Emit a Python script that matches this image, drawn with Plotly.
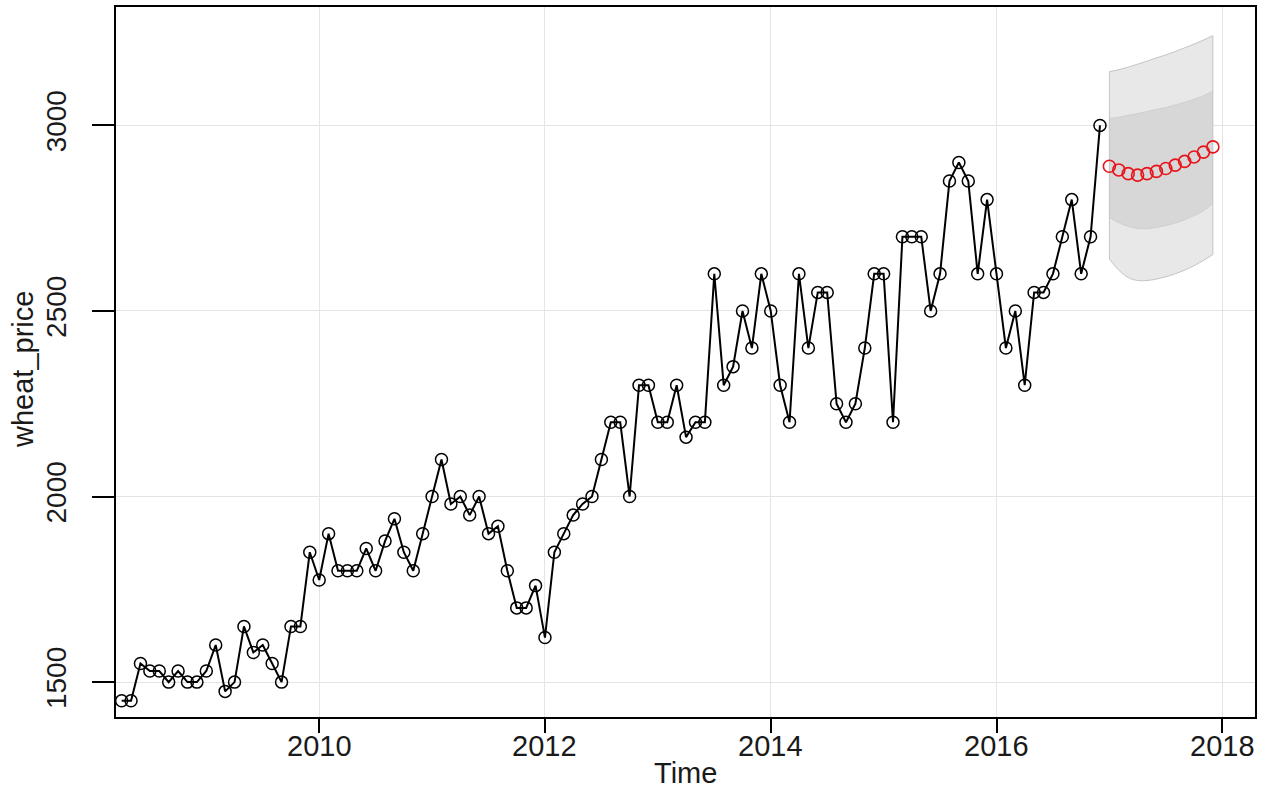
import numpy as np
import plotly.graph_objects as go

# Monthly wheat price, April 2008 - December 2016
start_year, start_month = 2008, 4
wheat_price = [
    1450, 1450, 1550, 1530, 1530, 1500, 1530, 1500, 1500,                    # 2008 (Apr-Dec)
    1530, 1600, 1475, 1500, 1650, 1580, 1600, 1550, 1500, 1650, 1650, 1850,  # 2009
    1775, 1900, 1800, 1800, 1800, 1860, 1800, 1880, 1940, 1850, 1800, 1900,  # 2010
    2000, 2100, 1980, 2000, 1950, 2000, 1900, 1920, 1800, 1700, 1700, 1760,  # 2011
    1620, 1850, 1900, 1950, 1980, 2000, 2100, 2200, 2200, 2000, 2300, 2300,  # 2012
    2200, 2200, 2300, 2160, 2200, 2200, 2600, 2300, 2350, 2500, 2400, 2600,  # 2013
    2500, 2300, 2200, 2600, 2400, 2550, 2550, 2250, 2200, 2250, 2400, 2600,  # 2014
    2600, 2200, 2700, 2700, 2700, 2500, 2600, 2850, 2900, 2850, 2600, 2800,  # 2015
    2600, 2400, 2500, 2300, 2550, 2550, 2600, 2700, 2800, 2600, 2700, 3000,  # 2016
]

# 12-month forecast for 2017 with 80% and 95% prediction intervals
fc_start_year, fc_start_month = 2017, 1
fc_mean = [2890, 2880, 2870, 2866, 2870, 2876, 2884, 2893, 2903, 2915, 2928, 2942]
fc_lo80 = [2752, 2738, 2728, 2722, 2722, 2725, 2730, 2737, 2746, 2757, 2770, 2790]
fc_hi80 = [3018, 3022, 3027, 3032, 3037, 3043, 3048, 3055, 3062, 3070, 3080, 3092]
fc_lo95 = [2640, 2610, 2590, 2582, 2582, 2586, 2592, 2600, 2610, 2622, 2636, 2652]
fc_hi95 = [3145, 3150, 3157, 3165, 3173, 3182, 3190, 3199, 3209, 3219, 3230, 3242]

x_ticks = [2010, 2012, 2014, 2016, 2018]
y_ticks = [1500, 2000, 2500, 3000]


def time_index(year, month, n):
    return year + (month - 1) / 12 + np.arange(n) / 12


t_obs = time_index(start_year, start_month, len(wheat_price))
t_fc = time_index(fc_start_year, fc_start_month, len(fc_mean))

FONT = "Liberation Sans, Arial, sans-serif"
TXT = "#1a1a1a"
band_edge = dict(color="#c4c4c4", width=1, shape="spline")

fig = go.Figure()

# 95% interval
fig.add_trace(go.Scatter(x=t_fc, y=fc_lo95, mode="lines", line=band_edge,
                         hoverinfo="skip", showlegend=False))
fig.add_trace(go.Scatter(x=t_fc, y=fc_hi95, mode="lines", line=band_edge,
                         fill="tonexty", fillcolor="#e8e8e8",
                         hoverinfo="skip", showlegend=False))
# 80% interval
fig.add_trace(go.Scatter(x=t_fc, y=fc_lo80, mode="lines",
                         line=dict(color="#cfcfcf", width=1, shape="spline"),
                         hoverinfo="skip", showlegend=False))
fig.add_trace(go.Scatter(x=t_fc, y=fc_hi80, mode="lines",
                         line=dict(color="#cfcfcf", width=1, shape="spline"),
                         fill="tonexty", fillcolor="#d7d7d7",
                         hoverinfo="skip", showlegend=False))
# vertical edges of the shaded region
for xe, lo, hi in [(t_fc[0], fc_lo95[0], fc_hi95[0]), (t_fc[-1], fc_lo95[-1], fc_hi95[-1])]:
    fig.add_trace(go.Scatter(x=[xe, xe], y=[lo, hi], mode="lines",
                             line=dict(color="#c4c4c4", width=1),
                             hoverinfo="skip", showlegend=False))

# observed series
fig.add_trace(go.Scatter(
    x=t_obs, y=wheat_price, mode="lines+markers",
    line=dict(color="black", width=2),
    marker=dict(symbol="circle-open", size=12, color="black", line=dict(width=1.5)),
    showlegend=False,
))

# point forecasts
fig.add_trace(go.Scatter(
    x=t_fc, y=fc_mean, mode="markers",
    marker=dict(symbol="circle-open", size=12, color="#e8141b", line=dict(width=1.6)),
    showlegend=False,
))

fig.update_layout(
    width=1274, height=792,
    margin=dict(l=116, r=19, t=5, b=75),
    paper_bgcolor="white", plot_bgcolor="white",
    font=dict(family=FONT, size=29, color=TXT),
    showlegend=False,
)
fig.update_xaxes(
    range=[2008.20, 2018.29], tickvals=x_ticks, showticklabels=False,
    showgrid=True, gridcolor="#e4e4e4", gridwidth=1, zeroline=False,
    showline=True, linecolor="black", linewidth=1.5, mirror=True,
    ticks="outside", ticklen=14, tickwidth=1.5, tickcolor="black",
)
fig.update_yaxes(
    range=[1406, 3319], tickvals=y_ticks, ticktext=[str(v) for v in y_ticks],
    showgrid=True, gridcolor="#e4e4e4", gridwidth=1, zeroline=False,
    showline=True, linecolor="black", linewidth=1.5, mirror=True,
    ticks="outside", ticklen=22, tickwidth=1.5, tickcolor="black",
    tickangle=-90, ticklabelstandoff=15,
    tickfont=dict(family=FONT, size=28, color=TXT),
)

# x tick labels placed just under the ticks
for v in x_ticks:
    fig.add_annotation(text=str(v), xref="x", yref="paper", x=v, y=0,
                       xanchor="center", yanchor="middle", yshift=-29, showarrow=False,
                       font=dict(family=FONT, size=29, color=TXT))

fig.add_annotation(text="Time", xref="paper", yref="paper", x=0.5, y=0,
                   xanchor="center", yanchor="middle", yshift=-56, showarrow=False,
                   font=dict(family=FONT, size=29, color=TXT))
fig.add_annotation(text="wheat_price", xref="paper", yref="paper", x=0, y=0.5,
                   xanchor="center", yanchor="middle", xshift=-93, yshift=-8,
                   textangle=-90, showarrow=False,
                   font=dict(family=FONT, size=29, color=TXT))

fig.write_html("out.html")
